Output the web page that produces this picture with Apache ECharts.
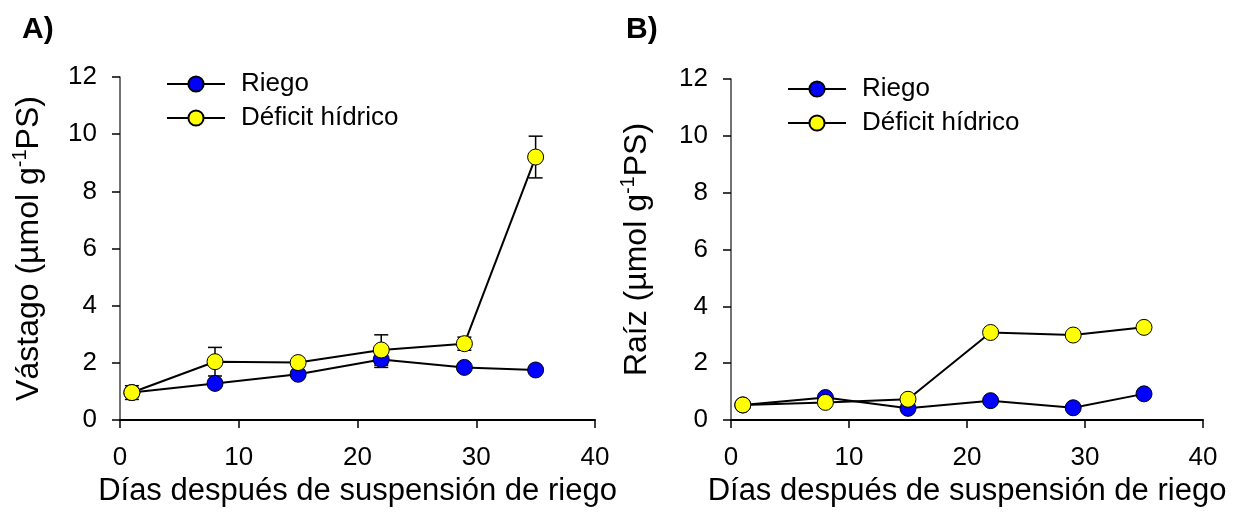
<!DOCTYPE html>
<html>
<head>
<meta charset="utf-8">
<script src="https://cdn.jsdelivr.net/npm/echarts@6/dist/echarts.min.js"></script>
<style>
html,body{margin:0;padding:0;background:#fff;}
#c{width:1238px;height:515px;}
</style>
</head>
<body>
<div id="c"></div>
<script>
// ---- data ----
const days = [1, 8, 15, 22, 29, 35];
const xTicks = [0, 10, 20, 30, 40];
const yTicks = [0, 2, 4, 6, 8, 10, 12];
const seriesNames = ['Riego', 'Déficit hídrico'];
// Panel A: Vástago
const riegoA = [0.96, 1.28, 1.60, 2.12, 1.84, 1.75];
const deficitA = [0.96, 2.04, 2.01, 2.45, 2.67, 9.20];
const riegoErrA = [0, 0, 0, 0.28, 0, 0];
const deficitErrA = [0.24, 0.50, 0, 0.53, 0.23, 0.73];
// Panel B: Raíz
const riegoB = [0.53, 0.79, 0.41, 0.68, 0.43, 0.92];
const deficitB = [0.53, 0.62, 0.73, 3.08, 2.99, 3.26];
const riegoErrB = [0, 0, 0, 0, 0, 0];
const deficitErrB = [0, 0, 0, 0, 0, 0];
const panelLabels = ['A)', 'B)'];
const yNames = ['Vástago (µmol g', 'Raíz (µmol g'];
const xName = 'Días después de suspensión de riego';

const FONT = 'Liberation Sans, Arial, sans-serif';
const chart = echarts.init(document.getElementById('c'));

function pts(vals) { return days.map((d, i) => [d, vals[i]]); }
function errs(vals, e) {
  const out = [];
  days.forEach((d, i) => { if (e[i] > 0) out.push([d, vals[i] - e[i], vals[i] + e[i]]); });
  return out;
}
function errRender(params, api) {
  const x = api.value(0), lo = api.value(1), hi = api.value(2);
  const a = api.coord([x, hi]), b = api.coord([x, lo]);
  const w = 7;
  const st = { stroke: '#000', lineWidth: 1.5 };
  return { type: 'group', children: [
    { type: 'line', shape: { x1: a[0], y1: a[1], x2: b[0], y2: b[1] }, style: st },
    { type: 'line', shape: { x1: a[0] - w, y1: a[1], x2: a[0] + w, y2: a[1] }, style: st },
    { type: 'line', shape: { x1: b[0] - w, y1: b[1], x2: b[0] + w, y2: b[1] }, style: st }
  ]};
}

const grids = [
  { left: 120, right: 643, top: 77, bottom: 95 },
  { left: 731, right: 35, top: 79, bottom: 95 }
];
const nameGaps = [72, 75];

const xAxes = grids.map((g, i) => ({
  type: 'value', gridIndex: i, min: xTicks[0], max: xTicks[xTicks.length - 1], interval: 10,
  name: xName, nameLocation: 'middle', nameGap: 55,
  nameTextStyle: { fontSize: 31, color: '#000', fontFamily: FONT },
  axisLine: { show: true, onZero: false, lineStyle: { color: '#000', width: 2 } },
  axisTick: { show: true, inside: false, length: 8, lineStyle: { color: '#000', width: 1.5 } },
  axisLabel: { fontSize: 26, color: '#000', fontFamily: FONT, margin: 25 },
  splitLine: { show: false }
}));
const yAxes = grids.map((g, i) => ({
  type: 'value', gridIndex: i, min: yTicks[0], max: yTicks[yTicks.length - 1], interval: 2,
  name: '{n|' + yNames[i] + '}{s|-1}{n|PS)}', nameLocation: 'middle', nameGap: nameGaps[i],
  nameTextStyle: { color: '#000', fontFamily: FONT, fontSize: 32,
    rich: {
      n: { fontSize: 32, color: '#000', fontFamily: FONT, lineHeight: 38 },
      s: { fontSize: 20, color: '#000', fontFamily: FONT, verticalAlign: 'top', lineHeight: 22 }
    } },
  axisLine: { show: true, onZero: false, lineStyle: { color: '#444', width: 1.5 } },
  axisTick: { show: true, inside: false, length: 8, lineStyle: { color: '#000', width: 1.5 } },
  axisLabel: { fontSize: 26, color: '#000', fontFamily: FONT, margin: 23 },
  splitLine: { show: false }
}));

function lineSeries(name, data, idx, color) {
  return {
    type: 'line', name: name, xAxisIndex: idx, yAxisIndex: idx, data: data,
    symbol: 'circle', symbolSize: 16, z: 3,
    lineStyle: { color: '#000', width: 2 },
    itemStyle: { color: color, borderColor: '#000', borderWidth: 1 },
    emphasis: { disabled: true }, animation: false
  };
}
function errSeries(data, idx) {
  return { type: 'custom', xAxisIndex: idx, yAxisIndex: idx, data: data, renderItem: errRender,
    encode: { x: 0, y: [1, 2] }, z: 2, silent: true, animation: false };
}

const series = [
  errSeries(errs(riegoA, riegoErrA), 0),
  errSeries(errs(deficitA, deficitErrA), 0),
  lineSeries(seriesNames[0], pts(riegoA), 0, '#0000ff'),
  lineSeries(seriesNames[1], pts(deficitA), 0, '#ffff00'),
  errSeries(errs(riegoB, riegoErrB), 1),
  errSeries(errs(deficitB, deficitErrB), 1),
  lineSeries(seriesNames[0], pts(riegoB), 1, '#0000ff'),
  lineSeries(seriesNames[1], pts(deficitB), 1, '#ffff00')
];

const legendPos = [{ left: 166, top: 71 }, { left: 787, top: 76 }];
const legends = legendPos.map(p => ({
  data: seriesNames, orient: 'vertical', left: p.left, top: p.top, padding: 0,
  itemWidth: 58, itemHeight: 19, itemGap: 8, selectedMode: false,
  textStyle: { fontSize: 26, color: '#000', fontFamily: FONT, padding: [0, 0, 0, 11] }
}));

const titles = [
  { text: panelLabels[0], left: 22, top: 15 },
  { text: panelLabels[1], left: 626, top: 15 }
].map(t => Object.assign(t, { padding: 0,
  textStyle: { fontSize: 30, fontWeight: 'bold', color: '#000', fontFamily: FONT } }));

chart.setOption({
  backgroundColor: '#fff',
  animation: false,
  title: titles,
  grid: grids,
  xAxis: xAxes,
  yAxis: yAxes,
  legend: legends,
  series: series
});
</script>
</body>
</html>
